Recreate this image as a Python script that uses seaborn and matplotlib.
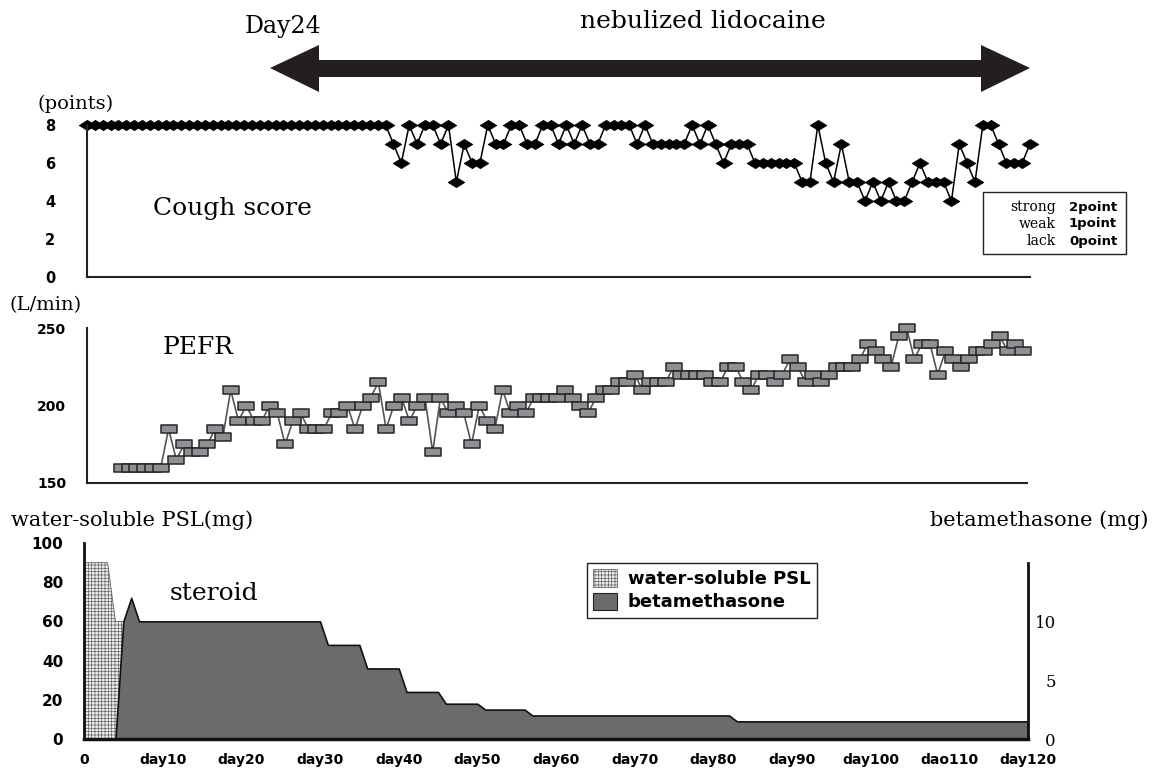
import numpy as np
import pandas as pd
import matplotlib
matplotlib.use('Agg')
import matplotlib.pyplot as plt
import seaborn as sns
from matplotlib.path import Path
from matplotlib.patches import Polygon, Rectangle, Patch

# Data
# Cough score, one value per day (day 0..120)
cough_days = list(range(121))
cough_score = [8, 8, 8, 8, 8, 8, 8, 8, 8, 8,
               8, 8, 8, 8, 8, 8, 8, 8, 8, 8,
               8, 8, 8, 8, 8, 8, 8, 8, 8, 8,
               8, 8, 8, 8, 8, 8, 8, 8, 8, 7,
               6, 8, 7, 8, 8, 7, 8, 5, 7, 6,
               6, 8, 7, 7, 8, 8, 7, 7, 8, 8,
               7, 8, 7, 8, 7, 7, 8, 8, 8, 8,
               7, 8, 7, 7, 7, 7, 7, 8, 7, 8,
               7, 6, 7, 7, 7, 6, 6, 6, 6, 6,
               6, 5, 5, 8, 6, 5, 7, 5, 5, 4,
               5, 4, 5, 4, 4, 5, 6, 5, 5, 5,
               4, 7, 6, 5, 8, 8, 7, 6, 6, 6,
               7]

# PEFR (L/min), day 4..120
pefr_days = list(range(4, 121))
pefr = [160, 160, 160, 160, 160, 160, 185, 165, 175, 170,
        170, 175, 185, 180, 210, 190, 200, 190, 190, 200,
        195, 175, 190, 195, 185, 185, 185, 195, 195, 200,
        185, 200, 205, 215, 185, 200, 205, 190, 200, 205,
        170, 205, 195, 200, 195, 175, 200, 190, 185, 210,
        195, 200, 195, 205, 205, 205, 205, 210, 205, 200,
        195, 205, 210, 210, 215, 215, 220, 210, 215, 215,
        215, 225, 220, 220, 220, 220, 215, 215, 225, 225,
        215, 210, 220, 220, 215, 220, 230, 225, 215, 220,
        215, 220, 225, 225, 225, 230, 240, 235, 230, 225,
        245, 250, 230, 240, 240, 220, 235, 230, 225, 230,
        235, 235, 240, 245, 235, 240, 235]

# steroid doses
psl_days = [0, 3, 4, 5, 6]
psl_mg = [90, 90, 60, 60, 0]
beta_days = [4, 5, 6, 7, 30, 31, 35, 36, 40, 41, 45, 46, 50, 51, 56, 57, 82, 83, 120]
beta_mg = [0, 10, 12, 10, 10, 8, 8, 6, 6, 4, 4, 3, 3, 2.5, 2.5, 2, 2, 1.5, 1.5]

x_ticks = list(range(0, 121, 10))
x_labels = ['0', 'day10', 'day20', 'day30', 'day40', 'day50', 'day60',
            'day70', 'day80', 'day90', 'day100', 'dao110', 'day120']

W, H = 1153, 769
SERIF = 'DejaVu Serif'
SANS = 'DejaVu Sans'

sns.set_style('white')
plt.rcParams['font.family'] = [SERIF, 'DejaVu Sans']
plt.rcParams['text.color'] = 'black'
plt.rcParams['xtick.color'] = 'black'
plt.rcParams['ytick.color'] = 'black'
plt.rcParams['hatch.linewidth'] = 0.5


def fx(x):
    return x / W


def fy(y):
    return 1 - y / H


def bold_ticks(ax, which='y', size=10):
    labels = ax.get_yticklabels() if which == 'y' else ax.get_xticklabels()
    for t in labels:
        t.set_fontfamily(SANS)
        t.set_fontweight('bold')
        t.set_fontsize(size)
        t.set_color('black')


fig = plt.figure(figsize=(W / 100, H / 100), dpi=100)
ax1 = fig.add_axes([fx(87), fy(277), (1030 - 87) / W, (277 - 125) / H])
ax2 = fig.add_axes([fx(87), fy(483), (1027 - 87) / W, (483 - 328) / H])
ax3 = fig.add_axes([fx(84), fy(739), (1028 - 84) / W, (739 - 543) / H])

# Cough score
diamond = Path([(-1, 0), (0, 0.62), (1, 0), (0, -0.62), (-1, 0)], closed=True)
cough_df = pd.DataFrame({'day': cough_days, 'score': cough_score})
sns.lineplot(data=cough_df, x='day', y='score', ax=ax1, color='black', lw=1.1,
             marker=diamond, markersize=12, markerfacecolor='black',
             markeredgecolor='black', mew=0.5, errorbar=None, clip_on=False)
ax1.set(xlim=(0, 120), ylim=(0, 8), xlabel='', ylabel='')
ax1.set_xticks([])
ax1.set_yticks([0, 2, 4, 6, 8])
ax1.tick_params(axis='y', length=0, pad=23)
bold_ticks(ax1, size=10.5)

# PEFR
rect = Path([(-1, -0.48), (1, -0.48), (1, 0.48), (-1, 0.48), (-1, -0.48)], closed=True)
pefr_df = pd.DataFrame({'day': pefr_days, 'pefr': pefr})
pefr_df['pos'] = pefr_df['day'] + 0.5
sns.lineplot(data=pefr_df, x='pos', y='pefr', ax=ax2, color='#555555', lw=1.2,
             marker=rect, markersize=11.5, markerfacecolor='#8f9094',
             markeredgecolor='#262626', mew=1.1, errorbar=None, clip_on=False)
ax2.set(xlim=(0, 121), ylim=(150, 250), xlabel='', ylabel='')
ax2.set_xticks([])
ax2.set_yticks([150, 200, 250])
ax2.tick_params(axis='y', length=0, pad=15)
bold_ticks(ax2)

for ax in (ax1, ax2):
    for s in ('top', 'right'):
        ax.spines[s].set_visible(False)
    for s in ('left', 'bottom'):
        ax.spines[s].set_linewidth(1.5)
        ax.spines[s].set_color('#222222')

# Steroid
ax3.fill_between(psl_days, psl_mg, 0, facecolor='#ececec', hatch='+++++',
                 edgecolor='#666666', lw=0.6)
ax3b = ax3.twinx()
ax3b.fill_between(beta_days, beta_mg, 0, facecolor='#6b6b6e',
                  edgecolor='#111111', lw=1.2)
ax3.set(xlim=(0, 120), ylim=(0, 100))
ax3b.set_ylim(0, 100 / 6)
ax3.set_xticks(x_ticks)
ax3.set_xticklabels(x_labels)
ax3.set_yticks([0, 20, 40, 60, 80, 100])
ax3b.set_yticks([0, 5, 10])
ax3.tick_params(axis='x', length=0, pad=10)
ax3.tick_params(axis='y', length=0, pad=15)
ax3b.tick_params(axis='y', length=0, pad=20, labelsize=12, labelcolor='black')
for t in ax3b.get_yticklabels():
    t.set_horizontalalignment('right')
bold_ticks(ax3, 'y', size=11)
bold_ticks(ax3, 'x')

for s in ('top', 'right', 'bottom'):
    ax3.spines[s].set_visible(False)
ax3.spines['left'].set_linewidth(2)
ax3.spines['left'].set_color('#111111')
for s in ('top', 'left'):
    ax3b.spines[s].set_visible(False)
ax3b.spines['bottom'].set_linewidth(2.5)
ax3b.spines['bottom'].set_color('#111111')
ax3b.spines['right'].set_linewidth(2)
ax3b.spines['right'].set_color('#111111')
ax3b.spines['right'].set_bounds(0, 15)

handles = [Patch(facecolor='#ececec', edgecolor='#666666', hatch='+++++', lw=0.6,
                 label='water-soluble PSL'),
           Patch(facecolor='#6b6b6e', edgecolor='#222222', lw=0.8,
                 label='betamethasone')]
leg = ax3b.legend(handles=handles, loc='upper left',
                  bbox_to_anchor=(fx(587), fy(563)), bbox_transform=fig.transFigure,
                  borderaxespad=0, frameon=True, fancybox=False, framealpha=1,
                  edgecolor='#222222',
                  prop={'family': SANS, 'weight': 'bold', 'size': 13},
                  handlelength=1.3, handleheight=1.1, handletextpad=0.6,
                  borderpad=0.35, labelspacing=0.25)
leg.get_frame().set_linewidth(1)
for t in leg.get_texts():
    t.set_color('black')

# Double arrow for nebulized lidocaine
arrow_px = [(270, 68), (319, 45), (319, 60), (981, 60), (981, 45), (1030, 68),
            (981, 92), (981, 77), (319, 77), (319, 92)]
fig.add_artist(Polygon([(fx(x), fy(y)) for x, y in arrow_px], closed=True,
                       transform=fig.transFigure, facecolor='#231f20',
                       edgecolor='none'))

fig.text(fx(283), fy(27), 'Day24', ha='center', va='center', fontsize=17)
fig.text(fx(703), fy(22), 'nebulized lidocaine', ha='center', va='center', fontsize=18)
fig.text(fx(153), fy(208), 'Cough score', ha='left', va='center', fontsize=18)
fig.text(fx(163), fy(347), 'PEFR', ha='left', va='center', fontsize=18)
fig.text(fx(170), fy(594), 'steroid', ha='left', va='center', fontsize=18)
fig.text(fx(76), fy(104), '(points)', ha='center', va='center', fontsize=14)
fig.text(fx(46), fy(305), '(L/min)', ha='center', va='center', fontsize=14)
fig.text(fx(11), fy(520), 'water-soluble PSL(mg)', ha='left', va='center', fontsize=15)
fig.text(fx(1148), fy(520), 'betamethasone (mg)', ha='right', va='center', fontsize=15)

# Cough score key
fig.add_artist(Rectangle((fx(983), fy(254)), (1126 - 983) / W, (254 - 192) / H,
                         transform=fig.transFigure, facecolor='white',
                         edgecolor='#222222', lw=1))
for row, (word, pts) in enumerate([('strong', '2point'), ('weak', '1point'),
                                   ('lack', '0point')]):
    y = 207 + row * 17
    fig.text(fx(1056), fy(y), word, ha='right', va='center', fontsize=10)
    fig.text(fx(1069), fy(y), pts, ha='left', va='center', fontsize=9.5,
             family=SANS, weight='bold')

fig.savefig('out.png', dpi=100)
